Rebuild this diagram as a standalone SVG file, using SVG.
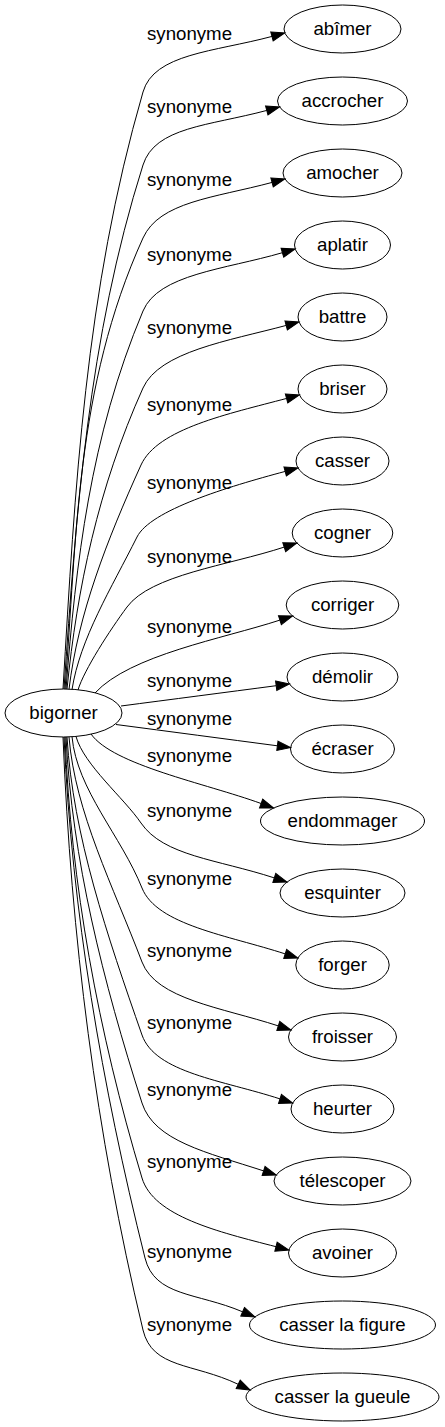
<svg xmlns="http://www.w3.org/2000/svg" width="445" height="1427" viewBox="0 0 445 1427">
<style>
.node ellipse{fill:none;stroke:#000;stroke-width:1}
.node text{font-family:"Liberation Sans",Arial,sans-serif;font-size:18.67px;fill:#000;text-anchor:middle}
.edge path{fill:none;stroke:#000;stroke-width:1;marker-end:url(#arrow)}
.edge text{font-family:"Liberation Sans",Arial,sans-serif;font-size:18.67px;fill:#000;text-anchor:middle}
</style>
<defs>
<marker id="arrow" markerUnits="userSpaceOnUse" markerWidth="16" markerHeight="12" viewBox="-1 -6 16 12" refX="0" refY="0" orient="auto" overflow="visible">
<path d="M0,-4.7 L13.3,0 L0,4.7 Z" fill="#000" stroke="#000" stroke-width="1"/>
</marker>
</defs>
<rect width="445" height="1427" fill="#fff"/>
<g id="connectors">
<g class="edge" id="e-abimer"><path d="M63,689 C75,489 85,292 143,92 C154,53.6 214,51.9 271.95,36.43"/><text x="189.5" y="40">synonyme</text></g>
<g class="edge" id="e-accrocher"><path d="M64,689 C76,515 88,339 143,165 C155,126.9 208.8,125.9 266.75,110.43"/><text x="189.5" y="113">synonyme</text></g>
<g class="edge" id="e-amocher"><path d="M65,689 C77,539 75,388 143,238 C159.5,201.6 214.1,197.9 272.05,182.43"/><text x="189.5" y="186">synonyme</text></g>
<g class="edge" id="e-aplatir"><path d="M66,689 C76,563 90,437 143,311 C158.5,274.1 224.8,269.5 282.4,252.7"/><text x="189.5" y="261">synonyme</text></g>
<g class="edge" id="e-battre"><path d="M67,689 C77,589 98,488 143,388 C159.4,351.6 228.2,340.9 286.15,325.43"/><text x="189.5" y="334">synonyme</text></g>
<g class="edge" id="e-briser"><path d="M69,689.3 C78,614 107,540 141,465 C157.5,428.6 228.6,413.9 286.55,398.43"/><text x="189.5" y="411">synonyme</text></g>
<g class="edge" id="e-casser"><path d="M72,689.6 C80,638.6 111.5,588 137,537 C150.4,510.2 227.2,486.9 285.15,471.43"/><text x="189.5" y="489">synonyme</text></g>
<g class="edge" id="e-cogner"><path d="M78,690 C84,670 110,630 127,607 C150.8,574.8 227.2,565.7 284.2,547.1"/><text x="189.5" y="563">synonyme</text></g>
<g class="edge" id="e-corriger"><path d="M95,693 C130,655 222.9,638.7 279.9,620.1"/><text x="189.5" y="633">synonyme</text></g>
<g class="edge" id="e-demolir"><path d="M121,706 C170,699.6 226,692.3 276.2,685.7"/><text x="189.5" y="687">synonyme</text></g>
<g class="edge" id="e-ecraser"><path d="M116,724.5 C170,731.6 225,738.9 277.4,745.8"/><text x="189.5" y="725">synonyme</text></g>
<g class="edge" id="e-endommager"><path d="M91,734 C113,765 204.7,783.1 261.1,803.5"/><text x="189.5" y="762">synonyme</text></g>
<g class="edge" id="e-esquinter"><path d="M76,736.5 C84,765 124,798 141,823 C163.5,856 217.3,859.3 274.3,877.9"/><text x="189.5" y="817">synonyme</text></g>
<g class="edge" id="e-forger"><path d="M72,736.7 C77,790 121.2,836 142,888 C156.8,925.1 228.2,935.3 285.2,953.9"/><text x="189.5" y="885">synonyme</text></g>
<g class="edge" id="e-froisser"><path d="M69,737 C75,812 113.5,887 142,962 C156.2,999.4 221.3,1007.3 278.3,1025.9"/><text x="189.5" y="957">synonyme</text></g>
<g class="edge" id="e-heurter"><path d="M67,737 C73,836 107.4,936 142,1035 C155.2,1072.8 223,1080.3 280,1098.9"/><text x="189.5" y="1029">synonyme</text></g>
<g class="edge" id="e-telescoper"><path d="M66,737 C72,859 103,981 142,1103 C154.2,1141.1 206.6,1152.3 263.6,1170.9"/><text x="189.5" y="1096">synonyme</text></g>
<g class="edge" id="e-avoiner"><path d="M65,737 C71,884 97.9,1031 142,1178 C153.5,1216.3 217.8,1231.7 276,1246.7"/><text x="189.5" y="1168">synonyme</text></g>
<g class="edge" id="e-casser-la-figure"><path d="M64,737 C72,911 101.5,1084 145,1258 C154.7,1296.8 196.6,1292.3 242.6,1311.8"/><text x="189.5" y="1258">synonyme</text></g>
<g class="edge" id="e-casser-la-gueule"><path d="M63,737 C71,935 95.5,1132 143,1330 C152.3,1368.9 193.1,1362.8 238.2,1384.3"/><text x="189.5" y="1331">synonyme</text></g>
</g>
<g class="node" id="n-bigorner"><ellipse cx="63.5" cy="713" rx="58.5" ry="24"/><text x="63.5" y="718.5">bigorner</text></g>
<g class="node" id="n-abimer"><ellipse cx="342.5" cy="29" rx="58.5" ry="24"/><text x="342.5" y="34.5">abîmer</text></g>
<g class="node" id="n-accrocher"><ellipse cx="342.5" cy="101" rx="65" ry="24"/><text x="342.5" y="106.5">accrocher</text></g>
<g class="node" id="n-amocher"><ellipse cx="342.5" cy="173" rx="59.5" ry="24"/><text x="342.5" y="178.5">amocher</text></g>
<g class="node" id="n-aplatir"><ellipse cx="342.5" cy="245" rx="48" ry="24"/><text x="342.5" y="250.5">aplatir</text></g>
<g class="node" id="n-battre"><ellipse cx="342.5" cy="317" rx="44.5" ry="24"/><text x="342.5" y="322.5">battre</text></g>
<g class="node" id="n-briser"><ellipse cx="342.5" cy="389" rx="44.5" ry="24"/><text x="342.5" y="394.5">briser</text></g>
<g class="node" id="n-casser"><ellipse cx="342.5" cy="461" rx="46.5" ry="24"/><text x="342.5" y="466.5">casser</text></g>
<g class="node" id="n-cogner"><ellipse cx="342.5" cy="533" rx="50.3" ry="24"/><text x="342.5" y="538.5">cogner</text></g>
<g class="node" id="n-corriger"><ellipse cx="342.5" cy="605" rx="56.3" ry="24"/><text x="342.5" y="610.5">corriger</text></g>
<g class="node" id="n-demolir"><ellipse cx="342.5" cy="677" rx="55.5" ry="24"/><text x="342.5" y="682.5">démolir</text></g>
<g class="node" id="n-ecraser"><ellipse cx="342.5" cy="749" rx="52" ry="24"/><text x="342.5" y="754.5">écraser</text></g>
<g class="node" id="n-endommager"><ellipse cx="342.5" cy="821" rx="82" ry="24"/><text x="342.5" y="826.5">endommager</text></g>
<g class="node" id="n-esquinter"><ellipse cx="342.5" cy="893" rx="62.5" ry="24"/><text x="342.5" y="898.5">esquinter</text></g>
<g class="node" id="n-forger"><ellipse cx="342.5" cy="965" rx="46.7" ry="24"/><text x="342.5" y="970.5">forger</text></g>
<g class="node" id="n-froisser"><ellipse cx="342.5" cy="1037" rx="54" ry="24"/><text x="342.5" y="1042.5">froisser</text></g>
<g class="node" id="n-heurter"><ellipse cx="342.5" cy="1109" rx="51.5" ry="24"/><text x="342.5" y="1114.5">heurter</text></g>
<g class="node" id="n-telescoper"><ellipse cx="342.5" cy="1181" rx="68.5" ry="24"/><text x="342.5" y="1186.5">télescoper</text></g>
<g class="node" id="n-avoiner"><ellipse cx="342.5" cy="1253" rx="54" ry="24"/><text x="342.5" y="1258.5">avoiner</text></g>
<g class="node" id="n-casser-la-figure"><ellipse cx="342.5" cy="1325" rx="93" ry="24"/><text x="342.5" y="1330.5">casser la figure</text></g>
<g class="node" id="n-casser-la-gueule"><ellipse cx="342.5" cy="1397" rx="96.5" ry="24"/><text x="342.5" y="1402.5">casser la gueule</text></g>
</svg>
